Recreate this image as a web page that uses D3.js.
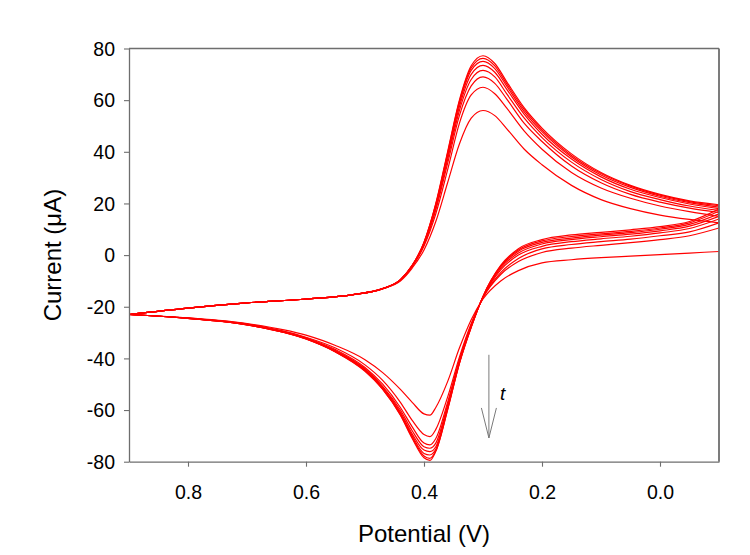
<!DOCTYPE html>
<html>
<head>
<meta charset="utf-8">
<script src="https://cdn.jsdelivr.net/npm/d3@7"></script>
<style>
  body { margin: 0; background: #fff; }
  svg text { font-family: "Liberation Sans", Arial, sans-serif; fill: #000; }
</style>
</head>
<body>
<div id="graf"></div>
<script>
// potentials (V) for each half of the scan
var potTop = [0.9, 0.8, 0.7, 0.6, 0.52, 0.47, 0.44, 0.42, 0.40, 0.38, 0.36, 0.34, 0.32, 0.30, 0.28, 0.26, 0.23, 0.2, 0.15, 0.1, 0.05, 0.0, -0.05, -0.1];
var potBottom = [-0.1, -0.05, 0.0, 0.05, 0.1, 0.15, 0.2, 0.24, 0.27, 0.30, 0.32, 0.34, 0.36, 0.38, 0.39, 0.40, 0.42, 0.44, 0.47, 0.5, 0.55, 0.6, 0.7, 0.8, 0.9];

// current (uA) on the way back (0.9 -> -0.1), one array per cycle
var top1 = [-23, -20.5, -18.5, -17, -15.3, -13, -10, -5, 2, 13, 28, 43, 53, 56, 54, 49, 41, 35, 27, 21.5, 18, 15.5, 13.8, 12.5];
var top2 = [-23, -20.5, -18.5, -17, -15.3, -13, -9.8, -4.5, 3.5, 16, 33, 51, 62, 65, 62.5, 57, 48, 41, 32, 26, 22, 19, 16.8, 15];
var top3 = [-23, -20.5, -18.5, -17, -15.3, -13, -9.7, -4.3, 4, 17.5, 35.5, 54, 65.5, 69, 66.5, 60.5, 51, 44, 34.5, 28, 23.5, 20.5, 18.2, 16.5];
var top4 = [-23, -20.5, -18.5, -17, -15.3, -13, -9.6, -4.2, 4.3, 18.3, 37, 56, 68, 71.5, 69, 62.5, 53, 45.5, 36, 29.3, 24.6, 21.5, 19, 17.3];
var top5 = [-23, -20.5, -18.5, -17, -15.3, -13, -9.6, -4.1, 4.5, 19, 38, 57.5, 70, 73.5, 70.8, 64.3, 54.5, 46.8, 37.2, 30.3, 25.5, 22.3, 19.8, 18];
var top6 = [-23, -20.5, -18.5, -17, -15.3, -13, -9.5, -4.1, 4.7, 19.4, 39, 58.7, 71.5, 75, 72.2, 65.5, 55.5, 47.8, 38, 31, 26.2, 22.8, 20.3, 18.6];
var top7 = [-23, -20.5, -18.5, -17, -15.3, -13, -9.5, -4, 4.9, 19.7, 39.5, 59.5, 72.5, 76.2, 73.3, 66.4, 56.3, 48.5, 38.6, 31.6, 26.7, 23.2, 20.7, 19.1];
var top8 = [-23, -20.5, -18.5, -17, -15.3, -13, -9.5, -4, 5, 20, 40, 60, 73.3, 77.2, 74.2, 67.2, 57, 49.2, 39.2, 32, 27, 23.5, 21, 19.5];

// current (uA) on the way out (-0.1 -> 0.9), one array per cycle
var bottom1 = [1.4, 0.8, 0.2, -0.4, -1, -1.8, -3, -6, -10, -17, -25, -36, -49, -59, -62, -61.5, -57, -52, -45.5, -40.5, -35, -31, -26.5, -24.3, -23];
var bottom2 = [10.5, 7.5, 6, 4.8, 3.8, 2.7, 1, -2.5, -7.5, -16.5, -26.5, -39.5, -55, -67.5, -70.3, -69.5, -64, -57, -48.5, -42.5, -36, -31.8, -26.7, -24.4, -23];
var bottom3 = [12.5, 9, 7.5, 6.2, 5.2, 4.1, 2.4, -1.3, -6.8, -16.4, -27, -40.5, -57, -71, -73.5, -72.8, -66.5, -59, -50, -43.5, -36.6, -32, -26.8, -24.4, -23];
var bottom4 = [14, 10.3, 8.6, 7.3, 6.3, 5.2, 3.4, 0, -5.7, -16.3, -27.4, -41, -58, -72.8, -74.8, -74.2, -68, -60, -50.8, -44, -37, -32.2, -26.9, -24.5, -23];
var bottom5 = [15, 11.2, 9.4, 8.1, 7.1, 6, 4.3, 0.8, -5, -16.2, -27.6, -41.4, -58.8, -74.2, -76.1, -75.5, -69.2, -60.8, -51.2, -44.3, -37.2, -32.3, -26.9, -24.5, -23];
var bottom6 = [16, 11.9, 10, 8.7, 7.7, 6.6, 4.9, 1.5, -4.5, -16.1, -27.8, -41.7, -59.3, -75.2, -77.4, -76.8, -70, -61.4, -51.6, -44.6, -37.4, -32.4, -27, -24.5, -23];
var bottom7 = [17, 12.5, 10.5, 9.2, 8.2, 7.2, 5.5, 2, -4.2, -16, -27.9, -41.9, -59.7, -75.8, -78.7, -77.8, -70.6, -61.8, -51.9, -44.8, -37.5, -32.5, -27, -24.5, -23];
var bottom8 = [17.8, 13, 11, 9.8, 8.8, 7.8, 6, 2.5, -4, -16, -28, -42, -60, -76, -79.5, -78.5, -71, -62, -52, -45, -37.5, -32.5, -27, -24.5, -23];

var xTicks = [0.8, 0.6, 0.4, 0.2, 0.0];
var yTicks = [-80, -60, -40, -20, 0, 20, 40, 60, 80];

// arrow marking the evolution with time
var arrowPot = 0.29, arrowFrom = -38.6, arrowTo = -70.8;

var topCurves = [top1, top2, top3, top4, top5, top6, top7, top8];
var bottomCurves = [bottom1, bottom2, bottom3, bottom4, bottom5, bottom6, bottom7, bottom8];

var largura = 750, altura = 555;
var margem = {left: 129, right: 31, top: 48.5, bottom: 93.3};

var svg = d3.select("#graf").append("svg")
    .attr("width", largura)
    .attr("height", altura);

var x = d3.scaleLinear().domain([0.9, -0.1]).range([margem.left, largura - margem.right]);
var y = d3.scaleLinear().domain([-80, 80]).range([altura - margem.bottom, margem.top]);

svg.append("clipPath").attr("id", "recorte")
  .append("rect")
    .attr("x", margem.left).attr("y", margem.top)
    .attr("width", x.range()[1] - x.range()[0])
    .attr("height", y.range()[0] - y.range()[1]);

var linha = d3.line()
    .x(function(d) { return x(d[0]); })
    .y(function(d) { return y(d[1]); })
    .curve(d3.curveMonotoneX);

var curvas = svg.append("g").attr("clip-path", "url(#recorte)");

for (var i = 0; i < topCurves.length; i++) {
    var ida = potBottom.map(function(p, j) { return [p, bottomCurves[i][j]]; });
    var volta = potTop.map(function(p, j) { return [p, topCurves[i][j]]; });
    [ida, volta].forEach(function(pts) {
        curvas.append("path")
            .attr("d", linha(pts))
            .attr("fill", "none")
            .attr("stroke", "#ff0000")
            .attr("stroke-width", 1.2);
    });
    // jump at the right vertex into the next cycle
    if (i < topCurves.length - 1) {
        curvas.append("line")
            .attr("x1", x(-0.1)).attr("x2", x(-0.1))
            .attr("y1", y(topCurves[i][topCurves[i].length - 1]))
            .attr("y2", y(bottomCurves[i + 1][0]))
            .attr("stroke", "#ff0000")
            .attr("stroke-width", 1.2);
    }
}

// frame
var cinza = "#6e6e6e";
svg.append("line")
    .attr("x1", margem.left).attr("x2", x.range()[1])
    .attr("y1", y(80)).attr("y2", y(80))
    .attr("stroke", cinza).attr("stroke-width", 1.3);
svg.append("line")
    .attr("x1", x.range()[1]).attr("x2", x.range()[1])
    .attr("y1", y(80)).attr("y2", y(-80))
    .attr("stroke", cinza).attr("stroke-width", 1.8);

var eixoX = svg.append("g")
    .attr("transform", "translate(0," + y(-80) + ")")
    .call(d3.axisBottom(x).tickValues(xTicks).tickFormat(d3.format(".1f")).tickSize(5).tickSizeOuter(0));

var eixoY = svg.append("g")
    .attr("transform", "translate(" + margem.left + ",0)")
    .call(d3.axisLeft(y).tickValues(yTicks).tickFormat(function(d) { return d; }).tickSize(5).tickSizeOuter(0));

[eixoX, eixoY].forEach(function(eixo) {
    eixo.select(".domain").attr("stroke", cinza).attr("stroke-width", 1.3);
    eixo.selectAll(".tick line").attr("stroke", cinza).attr("stroke-width", 1.1);
    eixo.selectAll(".tick text")
        .style("font-family", "'Liberation Sans', Arial, sans-serif")
        .style("font-size", "19.5px")
        .attr("fill", "#000");
});
eixoX.selectAll(".tick text").attr("y", 23);
eixoY.selectAll(".tick text").attr("x", -14).attr("dy", "0.35em");

svg.append("text")
    .text("Potential (V)")
    .attr("x", (x.range()[0] + x.range()[1]) / 2)
    .attr("y", 542)
    .style("font-size", "24px")
    .style("text-anchor", "middle");

svg.append("text")
    .text("Current (\u03bcA)")
    .attr("transform", "translate(61," + (y.range()[0] + y.range()[1]) / 2 + ") rotate(-90)")
    .style("font-size", "24px")
    .style("text-anchor", "middle");

// time arrow
var ax = x(arrowPot), ay0 = y(arrowFrom), ay1 = y(arrowTo);
var seta = svg.append("g").attr("stroke", "#7a7a7a").attr("stroke-width", 1).attr("fill", "none");
seta.append("line").attr("x1", ax).attr("x2", ax).attr("y1", ay0).attr("y2", ay1);
seta.append("path").attr("d", "M" + (ax - 7.5) + "," + (ay1 - 30) + "L" + ax + "," + ay1 + "L" + (ax + 7.5) + "," + (ay1 - 30));

svg.append("text")
    .text("t")
    .attr("x", ax + 11)
    .attr("y", y(arrowFrom) + 45)
    .style("font-size", "19px")
    .style("font-style", "italic");
</script>
</body>
</html>
